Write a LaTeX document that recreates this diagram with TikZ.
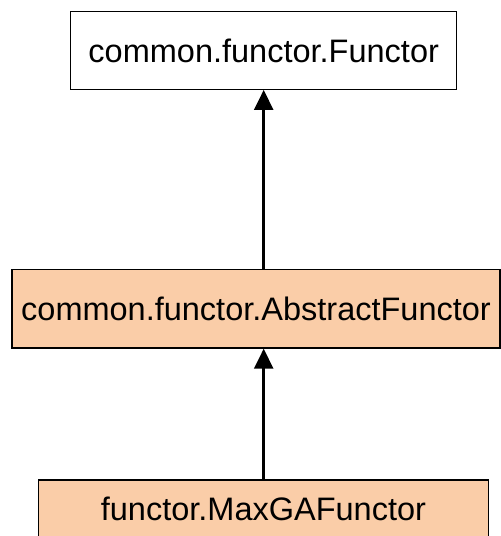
\documentclass[tikz,border=0pt]{standalone}
\usepackage{fontspec}
\setmainfont{Liberation Sans}
\usetikzlibrary{arrows.meta}
\definecolor{classfill}{RGB}{250,205,168}
\begin{document}
\begin{tikzpicture}[x=1pt,y=-1pt,
  classbox/.style={draw=black,line width=1.3pt,rectangle,inner sep=0pt,
    font=\fontsize{32.5}{39}\selectfont},
  inherit/.style={line width=2.6pt,-{Triangle[length=20pt,width=19pt]}}]
\useasboundingbox (0,0) rectangle (501,536);
\node[classbox,fill=white,minimum width=386pt,minimum height=77.6pt] (top) at (263.7,50.5) {common.functor.Functor};
\node[classbox,fill=classfill,minimum width=488pt,minimum height=78.7pt] (mid) at (256,308.7) {common.functor.AbstractFunctor};
\node[classbox,fill=classfill,minimum width=450pt,minimum height=58pt] (bot) at (263.4,509) {functor.MaxGAFunctor};
\draw[inherit] (bot.north -| top.south) -- (mid.south -| top.south);
\draw[inherit] (mid.north -| top.south) -- (top.south);
\end{tikzpicture}
\end{document}
